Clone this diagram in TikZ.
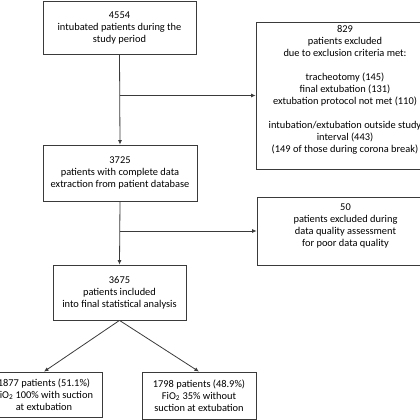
\documentclass[tikz,border=0pt]{standalone}
\usepackage{fontspec}
\setmainfont{Carlito}
\usetikzlibrary{arrows.meta}
\definecolor{ln}{HTML}{3A3A3A}
\tikzset{
  box/.style={draw=ln, line width=0.8pt, rectangle, inner sep=0pt},
  txt/.style={align=center, font=\fontsize{10.4}{12}\selectfont, inner sep=0pt},
  arr/.style={draw=ln, line width=0.8pt, -{Latex[length=4.5pt,width=4pt]}},
  conn/.style={draw=ln, line width=0.8pt}
}
\begin{document}
\begin{tikzpicture}[x=1pt,y=-1pt]
\useasboundingbox (0,0) rectangle (420,420);
% main column
\node[box, txt, minimum width=153pt, minimum height=53pt] (b1) at (119.5,27.5)
  {4554\\intubated patients during the\\study period};
\node[box, txt, minimum width=154pt, minimum height=56pt] (b2) at (120,173)
  {3725\\patients with complete data\\extraction from patient database};
\node[box, txt, minimum width=133pt, minimum height=55pt] (b3) at (119.5,292.5)
  {3675\\patients included\\into final statistical analysis};
\node[box, txt, minimum width=116pt, minimum height=45pt] (b4) at (44,394.5)
  {1877 patients (51.1\%)\\FiO\textsubscript{2} 100\% with suction\\at extubation};
\node[box, txt, minimum width=114pt, minimum height=47pt] (b5) at (199,395.5)
  {1798 patients (48.9\%)\\FiO\textsubscript{2} 35\% without\\suction at extubation};
% exclusion boxes
\node[box, minimum width=178pt, minimum height=147pt] (e1) at (345,95.5) {};
\node[txt] (e1t) at (345,90)
  {829\\patients excluded\\due to exclusion criteria met:\\[12pt]tracheotomy (145)\\final extubation (131)\\extubation protocol not met (110)\\[12pt]intubation/extubation outside study\\interval (443)\\(149 of those during corona break)};
\node[box, minimum width=177pt, minimum height=68pt] (e2) at (345.5,231) {};
\node[txt] (e2t) at (345.5,225.5)
  {50\\patients excluded during\\data quality assessment\\for poor data quality};
% branch points
\coordinate (j1) at (b1.south |- e1.west);
\coordinate (j2) at (b2.south |- e2.west);
% connectors
\draw[arr] (b1.south) -- (b2.north);
\draw[arr] (j1) -- (e1.west);
\draw[arr] (b2.south) -- (b3.north);
\draw[arr] (j2) -- (e2.west);
\draw[arr] (b3.south) -- (b4.north);
\draw[arr] (b3.south) -- (b5.north);
\end{tikzpicture}
\end{document}
